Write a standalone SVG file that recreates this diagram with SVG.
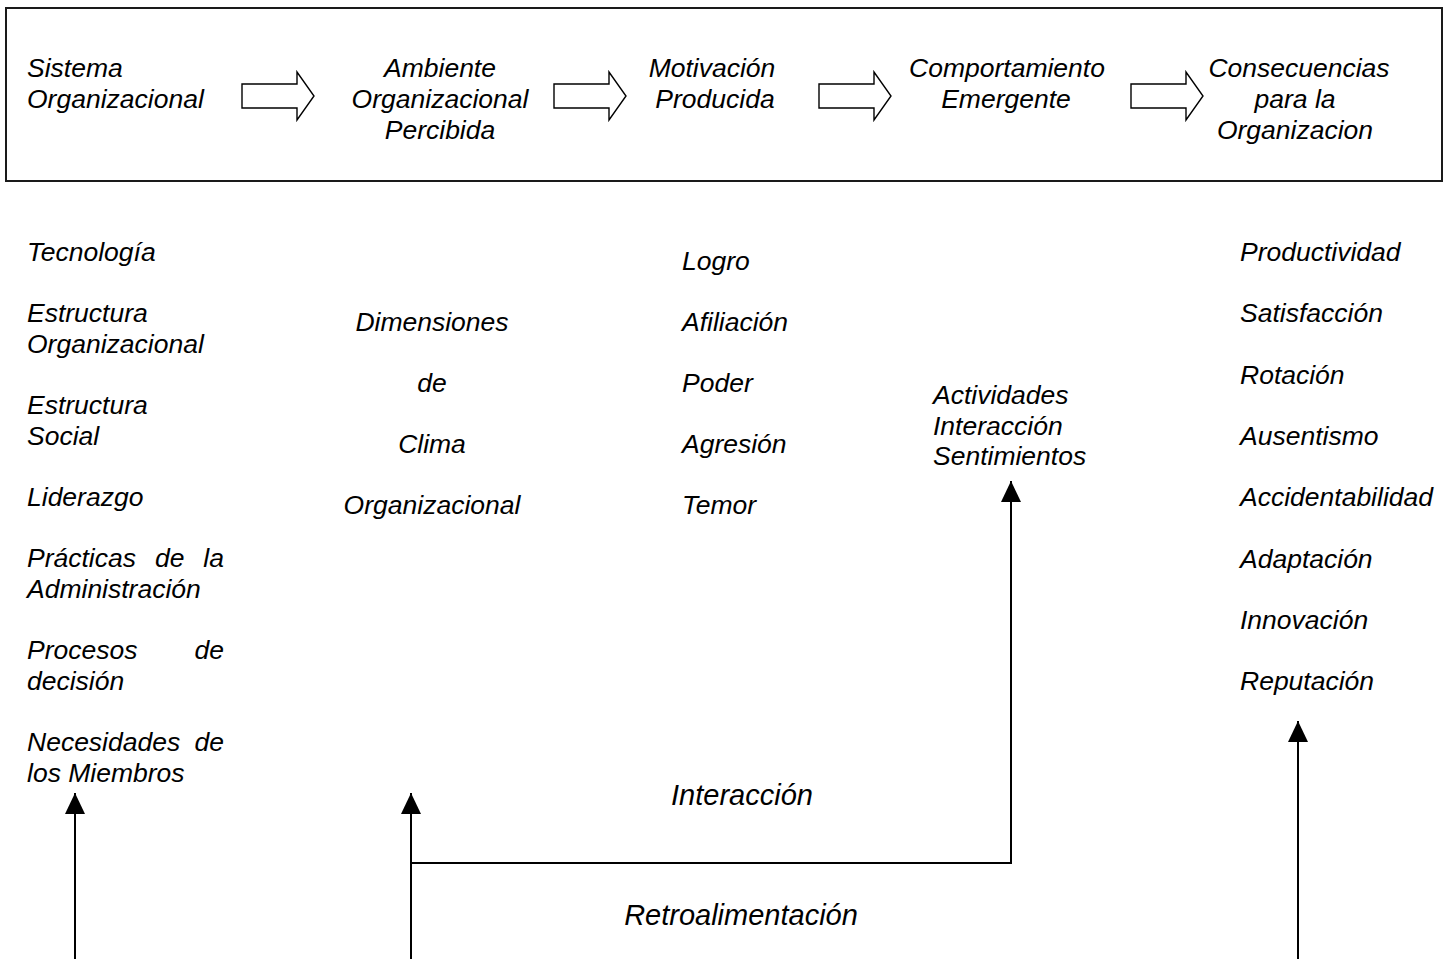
<svg xmlns="http://www.w3.org/2000/svg" width="1450" height="959" viewBox="0 0 1450 959">
<style>
text{font-family:"Liberation Sans",Arial,sans-serif;font-style:italic;font-size:26.5px;fill:#000}
.big{font-size:29px}
.mid{text-anchor:middle}
.end{text-anchor:end}
.blk{fill:#fff;stroke:#000;stroke-width:1.4;stroke-linejoin:miter}
.ln{fill:none;stroke:#000;stroke-width:2}
</style>
<defs>
<marker id="ah" viewBox="0 0 21 20" refX="21" refY="10" markerWidth="21" markerHeight="20" markerUnits="userSpaceOnUse" orient="auto">
<path d="M0,0 L21,10 L0,20 Z" fill="#000"/>
</marker>
<path id="barrow" d="M0,0 H55 V-12 L72,12 L55,36 V24 H0 Z"/>
</defs>
<g id="header">
<rect x="6" y="8" width="1436" height="173" fill="#fff" stroke="#1a1a1a" stroke-width="2"/>
</g>
<g id="n-sistema"><text x="27" y="77">Sistema</text><text x="27" y="108">Organizacional</text></g>
<g id="n-ambiente"><text class="mid" x="440" y="77">Ambiente</text><text class="mid" x="440" y="108">Organizacional</text><text class="mid" x="440" y="139">Percibida</text></g>
<g id="n-motivacion"><text class="mid" x="712" y="77">Motivación</text><text class="mid" x="715" y="108">Producida</text></g>
<g id="n-comportamiento"><text class="mid" x="1007" y="77">Comportamiento</text><text class="mid" x="1006" y="108">Emergente</text></g>
<g id="n-consecuencias"><text class="mid" x="1299" y="77">Consecuencias</text><text class="mid" x="1295" y="108">para la</text><text class="mid" x="1295" y="139">Organizacion</text></g>
<g id="block-arrows">
<use href="#barrow" class="blk" x="242" y="84"/>
<use href="#barrow" class="blk" x="554" y="84"/>
<use href="#barrow" class="blk" x="819" y="84"/>
<use href="#barrow" class="blk" x="1131" y="84"/>
</g>
<g id="n-factores">
<text x="27" y="261">Tecnología</text>
<text x="27" y="322">Estructura</text><text x="27" y="353">Organizacional</text>
<text x="27" y="414">Estructura</text><text x="27" y="445">Social</text>
<text x="27" y="506">Liderazgo</text>
<text x="27" y="567">Prácticas</text><text x="155" y="567">de</text><text class="end" x="224" y="567">la</text>
<text x="27" y="598">Administración</text>
<text x="27" y="659">Procesos</text><text class="end" x="224" y="659">de</text>
<text x="27" y="690">decisión</text>
<text x="27" y="751">Necesidades</text><text class="end" x="224" y="751">de</text>
<text x="27" y="782">los Miembros</text>
</g>
<g id="n-dimensiones">
<text class="mid" x="432" y="331">Dimensiones</text>
<text class="mid" x="432" y="392">de</text>
<text class="mid" x="432" y="453">Clima</text>
<text class="mid" x="432" y="514">Organizacional</text>
</g>
<g id="n-motivos">
<text x="682" y="270">Logro</text>
<text x="682" y="331">Afiliación</text>
<text x="682" y="392">Poder</text>
<text x="682" y="453">Agresión</text>
<text x="682" y="514">Temor</text>
</g>
<g id="n-comportamientos">
<text x="933" y="404">Actividades</text>
<text x="933" y="434.5">Interacción</text>
<text x="933" y="465">Sentimientos</text>
</g>
<g id="n-resultados">
<text x="1240" y="261">Productividad</text>
<text x="1240" y="322">Satisfacción</text>
<text x="1240" y="384">Rotación</text>
<text x="1240" y="445">Ausentismo</text>
<text x="1240" y="506">Accidentabilidad</text>
<text x="1240" y="567.5">Adaptación</text>
<text x="1240" y="629">Innovación</text>
<text x="1240" y="690">Reputación</text>
</g>
<g id="connectors">
<path class="ln" d="M75,959 V793" marker-end="url(#ah)"/>
<path class="ln" d="M411,959 V793" marker-end="url(#ah)"/>
<path class="ln" d="M411,863 H1011 V481" marker-end="url(#ah)"/>
<path class="ln" d="M1298,959 V721" marker-end="url(#ah)"/>
</g>
<g id="labels">
<text class="big mid" x="742" y="805">Interacción</text>
<text class="big mid" x="741" y="925">Retroalimentación</text>
</g>
</svg>
